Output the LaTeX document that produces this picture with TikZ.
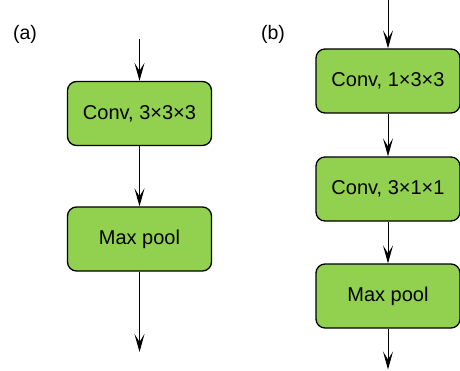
\documentclass[tikz,border=0pt]{standalone}
\usepackage{fontspec}
\setmainfont{Liberation Sans}
\usetikzlibrary{arrows.meta}
\definecolor{boxgreen}{HTML}{92D050}
\begin{document}
\begin{tikzpicture}[x=1pt,y=1pt,
  blk/.style={draw=black, line width=1.3pt, fill=boxgreen, rounded corners=9pt,
    minimum width=144pt, minimum height=64pt, inner sep=0pt,
    font=\fontsize{20}{24}\selectfont},
  flow/.style={line width=0.9pt, -{Stealth[length=18pt,width=10pt,inset=8pt]}},
  lbl/.style={font=\fontsize{19.5}{22}\selectfont, inner sep=0pt}]
\useasboundingbox (0,0) rectangle (460,370);
% (a)
\node[lbl] (la) at (25,336) {(a)};
\coordinate (ain) at (139.5,331);
\node[blk] (a1) at (139.5,256.5) {Conv, 3×3×3};
\node[blk] (a2) at (139.5,131) {Max pool};
\coordinate (aout) at (139.5,18);
\draw[flow] (ain) -- (a1.north);
\draw[flow] (a1.south) -- (a2.north);
\draw[flow] (a2.south) -- (aout);
% (b)
\node[lbl] (lb) at (273,336) {(b)};
\coordinate (bin) at (388,370);
\node[blk] (b1) at (388,289) {Conv, 1×3×3};
\node[blk] (b2) at (388,181) {Conv, 3×1×1};
\node[blk] (b3) at (388,74) {Max pool};
\coordinate (bout) at (388,0.5);
\draw[flow] (bin) -- (b1.north);
\draw[flow] (b1.south) -- (b2.north);
\draw[flow] (b2.south) -- (b3.north);
\draw[flow] (b3.south) -- (bout);
\end{tikzpicture}
\end{document}
